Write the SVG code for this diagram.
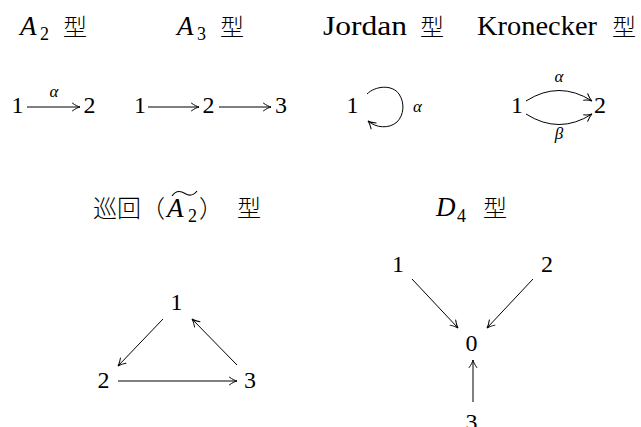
<svg xmlns="http://www.w3.org/2000/svg" width="641" height="427" viewBox="0 0 641 427">
<style>
.n{font-size:24px;text-anchor:middle}
.big{font-size:27px}
.sub{font-size:18px}
.lab{font-size:17px;font-style:italic;text-anchor:middle}
.e{fill:none;stroke:#000;stroke-width:1;marker-end:url(#ah)}
</style>
<defs>
<marker id="ah" viewBox="-9 -5 10 10" markerWidth="10" markerHeight="10" refX="0" refY="0" orient="auto" markerUnits="userSpaceOnUse">
<path d="M-7.5,-3.8 C-4.5,-1.6 -1.8,-0.4 0,0 C-1.8,0.4 -4.5,1.6 -7.5,3.8" fill="none" stroke="#000" stroke-width="1" stroke-linecap="round"/>
</marker>
</defs>

<g id="titles" font-family="'Liberation Serif', 'DejaVu Serif', serif" fill="#000">
<g id="title-A2"><text class="big" font-style="italic" x="20" y="35">A</text><text class="sub" x="40" y="40">2</text><text font-family="'Noto Sans CJK JP', 'Noto Sans CJK SC', sans-serif" font-size="24" font-weight="300" x="63" y="36">型</text></g>
<g id="title-A3"><text class="big" font-style="italic" x="177" y="35">A</text><text class="sub" x="197" y="40">3</text><text font-family="'Noto Sans CJK JP', 'Noto Sans CJK SC', sans-serif" font-size="24" font-weight="300" x="220" y="36">型</text></g>
<g id="title-Jordan"><text class="big" x="323" y="35" textLength="84" lengthAdjust="spacingAndGlyphs">Jordan</text><text font-family="'Noto Sans CJK JP', 'Noto Sans CJK SC', sans-serif" font-size="24" font-weight="300" x="420" y="36">型</text></g>
<g id="title-Kronecker"><text class="big" x="477" y="35" textLength="120" lengthAdjust="spacingAndGlyphs">Kronecker</text><text font-family="'Noto Sans CJK JP', 'Noto Sans CJK SC', sans-serif" font-size="24" font-weight="300" x="612" y="36">型</text></g>
<g id="title-cyclic"><text font-family="'Noto Sans CJK JP', 'Noto Sans CJK SC', sans-serif" font-size="24" font-weight="300" x="93" y="217">巡回（</text><text class="big" font-style="italic" x="167" y="217">A</text><text class="sub" x="188" y="222">2</text><text font-family="'Noto Sans CJK JP', 'Noto Sans CJK SC', sans-serif" font-size="24" font-weight="300" x="199" y="217">）</text><text font-family="'Noto Sans CJK JP', 'Noto Sans CJK SC', sans-serif" font-size="24" font-weight="300" x="237" y="217">型</text>
<path d="M172,196 C176,190 181,191 185,193.5 C189,196 193,196 197,191" fill="none" stroke="#000" stroke-width="1.1"/></g>
<g id="title-D4"><text class="big" font-style="italic" x="436" y="216">D</text><text class="sub" x="457" y="222">4</text><text font-family="'Noto Sans CJK JP', 'Noto Sans CJK SC', sans-serif" font-size="24" font-weight="300" x="483" y="217">型</text></g>
</g>

<g id="nodes" font-family="'Liberation Serif', 'DejaVu Serif', serif" fill="#000">
<g id="a2-1"><text class="n" x="17.5" y="113">1</text></g>
<g id="a2-2"><text class="n" x="89.5" y="113">2</text></g>
<g id="a3-1"><text class="n" x="140" y="113">1</text></g>
<g id="a3-2"><text class="n" x="208.5" y="113">2</text></g>
<g id="a3-3"><text class="n" x="281" y="113">3</text></g>
<g id="j-1"><text class="n" x="352.5" y="113">1</text></g>
<g id="k-1"><text class="n" x="517" y="113">1</text></g>
<g id="k-2"><text class="n" x="600" y="113">2</text></g>
<g id="c-1"><text class="n" x="176.5" y="310">1</text></g>
<g id="c-2"><text class="n" x="103.5" y="388">2</text></g>
<g id="c-3"><text class="n" x="250" y="388">3</text></g>
<g id="d-1"><text class="n" x="398" y="272">1</text></g>
<g id="d-2"><text class="n" x="547" y="272">2</text></g>
<g id="d-0"><text class="n" x="471.5" y="351">0</text></g>
<g id="d-3"><text class="n" x="471.5" y="430">3</text></g>
</g>

<g id="connectors" font-family="'Liberation Serif', 'DejaVu Serif', serif" fill="#000">
<line class="e" x1="27" y1="107" x2="80" y2="107"/>
<text class="lab" x="54" y="97">α</text>
<line class="e" x1="148" y1="107" x2="199" y2="107"/>
<line class="e" x1="219" y1="107" x2="271" y2="107"/>
<path class="e" d="M367,94 C375,86 392,84 399,94 C405,103 404,115 397,122 C389,129 376,128 368,121"/>
<text class="lab" x="417.5" y="112">α</text>
<path class="e" d="M526,101 Q559,80 592,101"/>
<text class="lab" x="559" y="82">α</text>
<path class="e" d="M526,114 Q559,135 592,114"/>
<text class="lab" x="559" y="139">β</text>
<line class="e" x1="163" y1="319" x2="118" y2="366"/>
<line class="e" x1="237" y1="365" x2="192" y2="319"/>
<line class="e" x1="118" y1="381" x2="237" y2="381"/>
<line class="e" x1="412" y1="279" x2="458" y2="328"/>
<line class="e" x1="533" y1="279" x2="487" y2="328"/>
<line class="e" x1="473" y1="402" x2="473" y2="360"/>
</g>
</svg>
